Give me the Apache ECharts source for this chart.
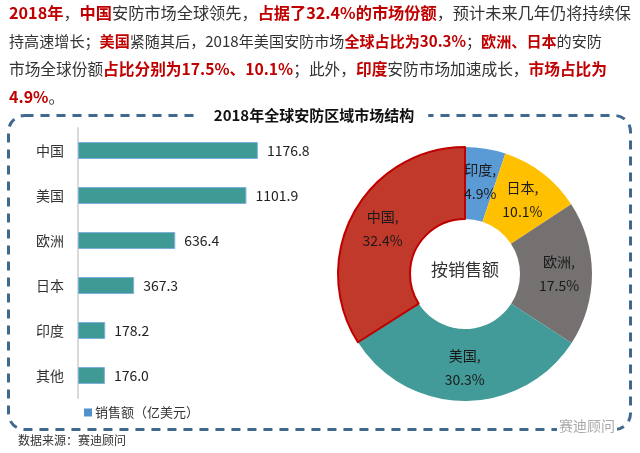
<!DOCTYPE html>
<html>
<head>
<meta charset="utf-8">
<script src="https://cdn.jsdelivr.net/npm/echarts@6/dist/echarts.min.js"></script>
<style>
html,body{margin:0;padding:0;background:#fff;}
#main{width:640px;height:453px;}
</style>
</head>
<body>
<div id="main"></div>
<script>
const barCategories = ['中国', '美国', '欧洲', '日本', '印度', '其他'];
const barValues = [1176.8, 1101.9, 636.4, 367.3, 178.2, 176.0];
const barSeriesName = '销售额（亿美元）';
const pieNames = ['印度', '日本', '欧洲', '美国', '中国'];
const pieValues = [4.9, 10.1, 17.5, 30.3, 32.4];
const pieColors = ['#5b9bd5', '#ffc000', '#767171', '#429b99', '#c0392b'];

const FONT = '"Noto Sans CJK SC", "Noto Sans", sans-serif';
const chart = echarts.init(document.getElementById('main'));

const textLines = [
  [['r','2018年'],['n','，'],['r','中国'],['n','安防市场全球领先，'],['r','占据了32.4%的市场份额'],['n','，预计未来几年仍将持续保']],
  [['n','持高速增长；'],['r','美国'],['n','紧随其后，2018年美国安防市场'],['r','全球占比为30.3%'],['n','；'],['r','欧洲、日本'],['n','的安防']],
  [['n','市场全球份额'],['r','占比分别为17.5%、10.1%'],['n','；此外，'],['r','印度'],['n','安防市场加速成长，'],['r','市场占比为']],
  [['r','4.9%'],['n','。']]
];
const lineY = [13, 41, 69, 97];
const lineSize = [16.2, 15.1, 15.7, 16];
const graphics = [];
// dashed frame
graphics.push({
  type: 'rect', left: 6, top: 113, z: 1,
  shape: {width: 622, height: 314, r: 16},
  style: {fill: 'none', stroke: '#41698f', lineWidth: 3, lineDash: [9, 7]}
});
// chart title covering the frame
graphics.push({
  type: 'text', x: 314, y: 115, z: 10,
  style: {text: '2018年全球安防区域市场结构', fontSize: 15, fontWeight: 'bold', fill: '#111',
    fontFamily: FONT, align: 'center', verticalAlign: 'middle',
    backgroundColor: '#fff', padding: [2, 14]}
});
textLines.forEach((segs, i) => {
  graphics.push({
    type: 'text', x: 9, y: lineY[i], z: 10,
    style: {
      text: segs.map(s => '{' + s[0] + '|' + s[1] + '}').join(''),
      rich: {
        n: {fontSize: lineSize[i], fill: '#333', fontFamily: FONT},
        r: {fontSize: lineSize[i], fill: '#c00000', fontWeight: 'bold', fontFamily: FONT}
      },
      verticalAlign: 'middle', align: 'left'
    }
  });
});
graphics.push({
  type: 'text', x: 465, y: 270, z: 10,
  style: {text: '按销售额', fontSize: 17, fill: '#333', fontFamily: FONT, align: 'center', verticalAlign: 'middle'}
});
graphics.push({
  type: 'text', x: 18, y: 440, z: 10,
  style: {text: '数据来源：赛迪顾问', fontSize: 12, fill: '#333', fontFamily: FONT, align: 'left', verticalAlign: 'middle'}
});
graphics.push({
  type: 'text', x: 557, y: 426, z: 10,
  style: {text: '赛迪顾问', fontSize: 14, fill: '#aaa', fontFamily: FONT, align: 'left', verticalAlign: 'middle',
    backgroundColor: '#fff', padding: [0, 2]}
});

const option = {
  animation: false,
  backgroundColor: '#fff',
  textStyle: {fontFamily: FONT},
  graphic: graphics,
  legend: {
    data: [{name: barSeriesName, itemStyle: {color: '#4f91cd', borderWidth: 0}}],
    left: 79, top: 401, itemWidth: 8, itemHeight: 8, itemGap: 4,
    icon: 'rect',
    textStyle: {fontSize: 13, color: '#333', fontFamily: FONT, padding: [0, 0, 0, -2]}
  },
  grid: {left: 78, top: 128, width: 214, height: 270},
  xAxis: {type: 'value', min: 0, max: 1400, show: false},
  yAxis: {
    type: 'category', data: barCategories, inverse: true,
    axisLine: {show: true, lineStyle: {color: '#d9d9d9', width: 2}},
    axisTick: {show: false},
    axisLabel: {fontSize: 14, color: '#333', margin: 14, fontFamily: FONT},
    splitLine: {show: false}
  },
  series: [
    {
      name: barSeriesName, type: 'bar', data: barValues, barWidth: 17,
      itemStyle: {color: '#3f9a95', borderColor: '#7fb0dc', borderWidth: 1},
      label: {show: true, position: 'right', distance: 9, fontSize: 14, color: '#222', fontFamily: FONT,
        formatter: p => p.value.toFixed(1)}
    },
    {
      type: 'pie', center: [465, 274], radius: [55, 127], startAngle: 90, clockwise: true,
      avoidLabelOverlap: false,
      data: pieNames.map((n, i) => ({
        name: n, value: pieValues[i],
        itemStyle: i === 4 ? {color: pieColors[i], borderColor: '#c00000', borderWidth: 2} : {color: pieColors[i]}
      })),
      label: {show: true, position: 'inside', fontSize: 14, color: '#1a1a1a', lineHeight: 24, fontFamily: FONT,
        formatter: p => p.name + ',\n' + p.value.toFixed(1) + '%'},
      labelLine: {show: false},
      emphasis: {disabled: true}
    }
  ]
};
chart.setOption(option);
</script>
</body>
</html>
